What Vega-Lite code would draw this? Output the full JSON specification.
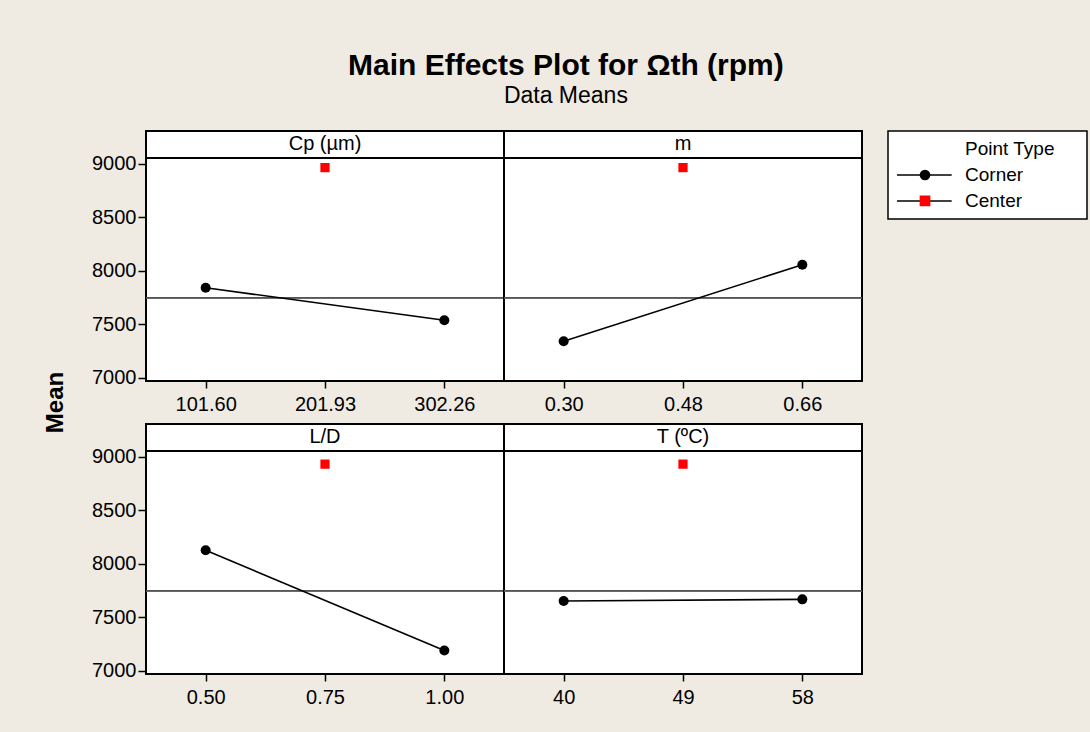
{
  "$schema": "https://vega.github.io/schema/vega-lite/v6.json",
  "background": "#EFEBE2",
  "padding": {"left": 44, "top": 51, "right": 5, "bottom": 26},
  "title": {
    "text": "Main Effects Plot for Ωth (rpm)",
    "subtitle": "Data Means",
    "font": "Liberation Sans",
    "fontSize": 30,
    "fontWeight": "bold",
    "color": "black",
    "subtitleFont": "Liberation Sans",
    "subtitleFontSize": 23,
    "subtitleColor": "black",
    "subtitlePadding": 4,
    "anchor": "middle",
    "frame": "bounds",
    "offset": 22
  },
  "spacing": 23,
  "hconcat": [
    {
      "width": 24,
      "height": 543,
      "view": {"stroke": null, "fill": "#EFEBE2"},
      "data": {"values": [{"axisTitle": "Mean"}]},
      "mark": {"type": "text", "angle": 270, "fontSize": 24, "fontWeight": "bold", "color": "black", "font": "Liberation Sans", "baseline": "middle", "align": "center"},
      "encoding": {"text": {"field": "axisTitle"}}
    },
    {
      "data": {
        "values": [
          {"factor": "Cp (µm)", "level": "101.60", "type": "Corner", "mean": 7841},
          {"factor": "Cp (µm)", "level": "201.93", "type": "Center", "mean": 8963},
          {"factor": "Cp (µm)", "level": "302.26", "type": "Corner", "mean": 7538},
          {"factor": "m", "level": "0.30", "type": "Corner", "mean": 7341},
          {"factor": "m", "level": "0.48", "type": "Center", "mean": 8963},
          {"factor": "m", "level": "0.66", "type": "Corner", "mean": 8056},
          {"factor": "L/D", "level": "0.50", "type": "Corner", "mean": 8125},
          {"factor": "L/D", "level": "0.75", "type": "Center", "mean": 8930},
          {"factor": "L/D", "level": "1.00", "type": "Corner", "mean": 7190},
          {"factor": "T (ºC)", "level": "40", "type": "Corner", "mean": 7652},
          {"factor": "T (ºC)", "level": "49", "type": "Center", "mean": 8930},
          {"factor": "T (ºC)", "level": "58", "type": "Corner", "mean": 7667}
        ]
      },
      "facet": {
        "field": "factor",
        "type": "nominal",
        "sort": ["Cp (µm)", "m", "L/D", "T (ºC)"],
        "header": {
          "title": null,
          "labels": false,
          "labelExpr": "''",
          "labelFontSize": 0,
          "labelPadding": 0
        }
      },
      "columns": 2,
      "bounds": "flush",
      "spacing": {"row": 43, "column": 0},
      "resolve": {"scale": {"x": "independent"}},
      "spec": {
        "width": 358,
        "height": 250,
        "encoding": {
          "x": {
            "field": "level",
            "type": "ordinal",
            "sort": "ascending",
            "title": null,
            "scale": {"type": "point", "padding": 0.5},
            "axis": {"labelAngle": 0, "labelAlign": "center"}
          },
          "y": {
            "field": "mean",
            "type": "quantitative",
            "title": null,
            "scale": {"domain": [6970, 9305], "nice": false, "zero": false},
            "axis": {"values": [7000, 7500, 8000, 8500, 9000], "format": "d"}
          }
        },
        "layer": [
          {
            "mark": {"type": "rule", "color": "#555555", "strokeWidth": 1.5},
            "encoding": {"x": null, "y": {"datum": 7748, "type": "quantitative"}}
          },
          {
            "mark": {"type": "rule", "color": "black", "strokeWidth": 2},
            "encoding": {"x": null, "y": {"datum": 9053, "type": "quantitative"}}
          },
          {
            "transform": [{"filter": "datum.type === 'Center'"}],
            "mark": {"type": "text", "fontSize": 20, "baseline": "middle", "color": "black", "font": "Liberation Sans"},
            "encoding": {"x": null, "y": {"datum": 9185, "type": "quantitative"}, "text": {"field": "factor"}}
          },
          {
            "transform": [{"filter": "datum.type === 'Corner'"}],
            "mark": {"type": "line", "color": "black", "strokeWidth": 1.6}
          },
          {
            "transform": [{"filter": "datum.type === 'Corner'"}],
            "mark": {"type": "point", "filled": true, "shape": "circle", "size": 100, "opacity": 1},
            "encoding": {
              "color": {
                "field": "type",
                "type": "nominal",
                "scale": {"domain": ["Corner", "Center"], "range": ["black", "red"]},
                "legend": null
              }
            }
          },
          {
            "transform": [{"filter": "datum.type === 'Center'"}],
            "mark": {"type": "point", "filled": true, "shape": "square", "size": 85, "opacity": 1},
            "encoding": {
              "color": {"field": "type", "type": "nominal", "legend": null}
            }
          }
        ]
      }
    },
    {
      "width": 199,
      "height": 88,
      "view": {"stroke": "black", "strokeWidth": 1.5, "fill": "white"},
      "data": {"values": [{"type": "Corner"}, {"type": "Center"}]},
      "encoding": {
        "y": {
          "field": "type",
          "type": "nominal",
          "scale": {"type": "point", "domain": ["Point Type", "Corner", "Center"], "padding": 0.7},
          "axis": null
        }
      },
      "layer": [
        {
          "mark": {"type": "rule", "color": "black", "strokeWidth": 1.5},
          "encoding": {
            "x": {"datum": 4.5, "type": "quantitative", "scale": {"domain": [0, 100], "nice": false}, "axis": null},
            "x2": {"datum": 32}
          }
        },
        {
          "mark": {"type": "point", "filled": true, "opacity": 1, "size": 115},
          "encoding": {
            "x": {"datum": 18.6, "type": "quantitative"},
            "color": {"field": "type", "type": "nominal", "legend": null},
            "shape": {
              "field": "type",
              "type": "nominal",
              "scale": {"domain": ["Corner", "Center"], "range": ["circle", "square"]},
              "legend": null
            }
          }
        },
        {
          "mark": {"type": "text", "align": "left", "baseline": "middle", "fontSize": 19, "color": "black", "font": "Liberation Sans"},
          "encoding": {
            "x": {"datum": 38.7, "type": "quantitative"},
            "text": {"field": "type"}
          }
        },
        {
          "transform": [{"filter": "datum.type === 'Corner'"}],
          "mark": {"type": "text", "align": "left", "baseline": "middle", "fontSize": 19, "color": "black", "font": "Liberation Sans"},
          "encoding": {
            "x": {"datum": 38.7, "type": "quantitative"},
            "y": {"datum": "Point Type"},
            "text": {"value": "Point Type"}
          }
        }
      ]
    }
  ],
  "config": {
    "font": "Liberation Sans",
    "view": {"stroke": "black", "strokeWidth": 2, "fill": "white"},
    "axis": {
      "domain": false,
      "grid": false,
      "labelFont": "Liberation Sans",
      "labelFontSize": 20,
      "labelColor": "black",
      "tickColor": "black",
      "tickWidth": 1.5,
      "titleFont": "Liberation Sans",
      "titleColor": "black"
    },
    "axisX": {"tickSize": 7, "labelPadding": 6, "labelAngle": 0},
    "axisY": {"tickSize": 8, "labelPadding": 2}
  }
}
